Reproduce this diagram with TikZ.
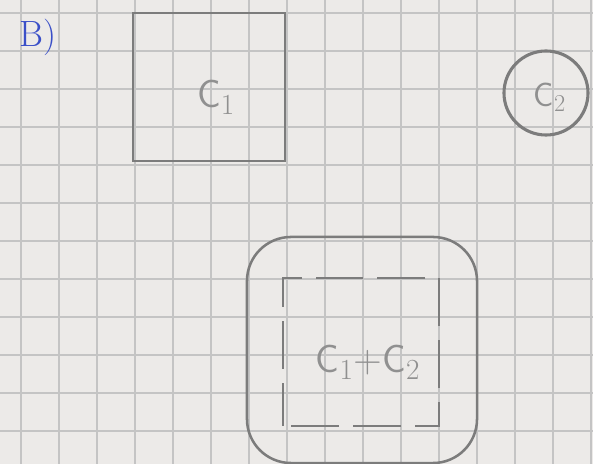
\documentclass[tikz,border=0pt]{standalone}
\usepackage{tikz}
\usetikzlibrary{positioning,calc}
\definecolor{paper}{HTML}{ECEAE8}
\definecolor{gridline}{HTML}{C4C4C4}
\definecolor{pencil}{HTML}{7C7C7C}
\definecolor{ink}{HTML}{3A4FC8}
\begin{document}
\begin{tikzpicture}[
    x=0.025cm, y=-0.025cm,
    sketch/.style={draw=pencil, line width=1.8pt},
    lbl/.style={text=pencil!85, font=\sffamily\fontsize{28}{32}\selectfont}
]
% Paper
\fill[paper] (0,0) rectangle (593,464);
\useasboundingbox (0,0) rectangle (593,464);
\foreach \gx in {21,59,...,591}
    \draw[gridline, line width=0.9pt] (\gx,0) -- (\gx,464);
\foreach \gy in {13,51,...,463}
    \draw[gridline, line width=0.9pt] (0,\gy) -- (593,\gy);

% Part label
\node[text=ink, font=\fontsize{26}{30}\selectfont] (part) at (38,37) {B)};

% C1
\node[sketch, rectangle, minimum width=3.8cm, minimum height=3.7cm] (c1) at (209,87) {};
\node[lbl] (c1lbl) at (216,97) {C$_1$};

% C2
\node[sketch, line width=2.2pt, circle, minimum size=2.1cm] (c2) at (546,93) {};
\node[lbl, font=\sffamily\fontsize{24}{28}\selectfont] (c2lbl) at (550,97) {C$_2$};

% C1 + C2
\node[sketch, rectangle, rounded corners=1.1cm, minimum width=5.75cm, minimum height=5.65cm] (sum) at (362,350) {};
\node[draw=pencil, line width=1.3pt, dash pattern=on 34pt off 10pt, dash phase=-6pt, rectangle, minimum width=3.9cm, minimum height=3.7cm] (inner) at (361,352) {};
\node[lbl] (sumlbl) at (368,362) {C$_1$+C$_2$};
\end{tikzpicture}
\end{document}
